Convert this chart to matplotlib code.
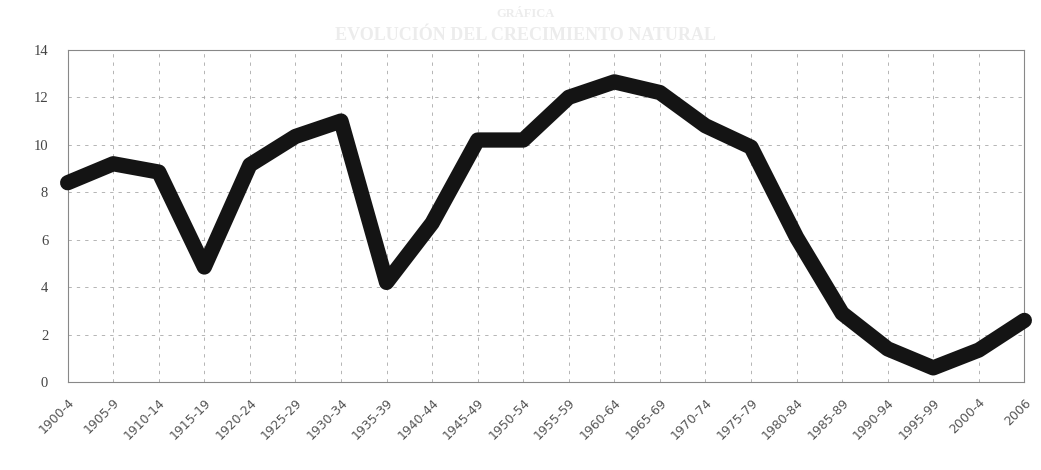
import numpy as np
import matplotlib
matplotlib.use('Agg')
import matplotlib.pyplot as plt

periods = ['1900-4', '1905-9', '1910-14', '1915-19', '1920-24', '1925-29',
           '1930-34', '1935-39', '1940-44', '1945-49', '1950-54', '1955-59',
           '1960-64', '1965-69', '1970-74', '1975-79', '1980-84', '1985-89',
           '1990-94', '1995-99', '2000-4', '2006']
growth = [8.4, 9.2, 8.85, 4.85, 9.15, 10.35,
          11.0, 4.2, 6.7, 10.2, 10.2, 12.0,
          12.65, 12.2, 10.8, 9.9, 6.1, 2.9,
          1.4, 0.6, 1.35, 2.6]

fig = plt.figure(figsize=(10.41, 4.70), dpi=100)
ax = fig.add_axes([0.065, 0.187, 0.919, 0.707])

x = np.arange(len(periods))
ax.plot(x, growth, color='#141414', lw=11, solid_joinstyle='round',
        solid_capstyle='round', zorder=3, clip_on=False)

ax.set_xlim(0, len(periods) - 1)
ax.set_ylim(0, 14)
ax.set_yticks(range(0, 15, 2))
ax.set_xticks(x)
ax.set_xticklabels(periods, rotation=45, ha='right', rotation_mode='anchor',
                   fontsize=9, color='#555555', family='DejaVu Sans')
for lab in ax.get_yticklabels():
    lab.set_family('Liberation Serif')
    lab.set_fontsize(10.5)
    lab.set_color('#444444')

ax.tick_params(axis='x', length=0, pad=10)
ax.tick_params(axis='y', length=0, pad=14)
ax.grid(True, color='#a8a8a8', linestyle=(0, (4, 6)), lw=0.6)
for s in ax.spines.values():
    s.set_color('#888888')
    s.set_linewidth(0.8)

fig.text(0.505, 0.97, 'GRÁFICA', ha='center', va='center', fontsize=9,
         fontweight='bold', family='Liberation Serif', color='#ececec')
fig.text(0.505, 0.925, 'EVOLUCIÓN DEL CRECIMIENTO NATURAL', ha='center',
         va='center', fontsize=13, fontweight='bold', family='Liberation Serif',
         color='#ececec')

fig.savefig('out.png', dpi=100, facecolor='white')
